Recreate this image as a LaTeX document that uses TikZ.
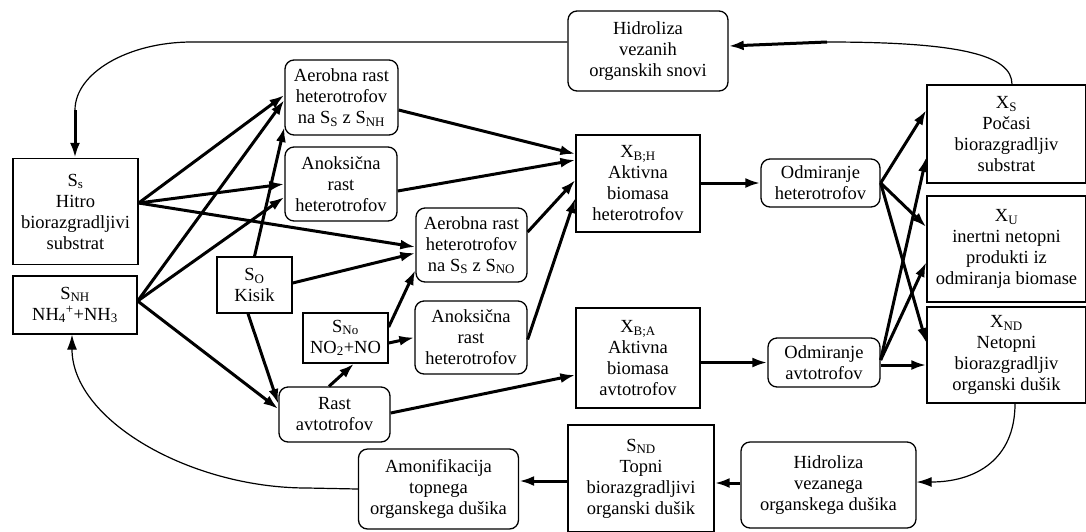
\documentclass[tikz,border=0pt]{standalone}
\usepackage{fontspec}
\setmainfont{Liberation Serif}
\usetikzlibrary{arrows.meta,calc}

\tikzset{
  every node/.style={font=\fontsize{18.5}{21}\selectfont, align=center, inner sep=0pt},
  box/.style={draw, line width=1.3pt, minimum width=#1},
  box/.default=110pt,
  rbox/.style={box=#1, rounded corners=9pt},
  rbox/.default=110pt,
  arr/.style={line width=3pt, -{Latex[length=15pt,width=10pt]}},
  thinarr/.style={line width=1.2pt, -{Latex[length=15pt,width=10pt]}},
  thinline/.style={line width=1.2pt},
}

\begin{document}
\begin{tikzpicture}[x=1pt,y=-1pt]
\useasboundingbox (0,0) rectangle (1086,531);

% substrates on the left
\node[box=125pt, minimum height=106pt] (ss) at (75.5,211.5)
  {S\textsubscript{s}\\Hitro\\biorazgradljivi\\substrat};
\node[box=124pt, minimum height=58pt] (snh) at (75,305)
  {S\textsubscript{NH}\\NH\textsubscript{4}\textsuperscript{+}+NH\textsubscript{3}};
\node[box=75pt, minimum height=56pt] (so) at (254.5,285) {S\textsubscript{O}\\Kisik};
\node[box=85pt, minimum height=50pt] (sno) at (345.5,338) {S\textsubscript{No}\\NO\textsubscript{2}+NO};

% growth processes
\node[rbox=113pt, minimum height=75pt] (aer1) at (341.5,97.5)
  {Aerobna rast\\heterotrofov\\na S\textsubscript{S} z S\textsubscript{NH}};
\node[rbox=112pt, minimum height=74pt] (ano1) at (341,184)
  {Anoksična\\rast\\heterotrofov};
\node[rbox=111pt, minimum height=74pt] (aer2) at (471.5,245)
  {Aerobna rast\\heterotrofov\\na S\textsubscript{S} z S\textsubscript{NO}};
\node[rbox=112pt, minimum height=73pt] (ano2) at (471,337.5)
  {Anoksična\\rast\\heterotrofov};
\node[rbox=111pt, minimum height=55pt] (rast) at (334.5,414.5) {Rast\\avtotrofov};

% biomass
\node[box=124pt, minimum height=97pt] (xbh) at (638,183.5)
  {X\textsubscript{B;H}\\Aktivna\\biomasa\\heterotrofov};
\node[box=124pt, minimum height=100pt] (xba) at (638,358)
  {X\textsubscript{B;A}\\Aktivna\\biomasa\\avtotrofov};

% decay and hydrolysis
\node[rbox=160pt, minimum height=80pt] (hid1) at (648,51)
  {Hidroliza\\vezanih\\organskih snovi};
\node[rbox=119pt, minimum height=48pt] (odh) at (820.5,183) {Odmiranje\\heterotrofov};
\node[rbox=112pt, minimum height=49pt] (oda) at (824,362.5) {Odmiranje\\avtotrofov};

% particulate products
\node[box=159pt, minimum height=98pt] (xs) at (1006.5,134)
  {X\textsubscript{S}\\Počasi\\biorazgradljiv\\substrat};
\node[box=159pt, minimum height=106pt] (xu) at (1006.5,249)
  {X\textsubscript{U}\\inertni netopni\\produkti iz\\odmiranja biomase};
\node[box=159pt, minimum height=96pt] (xnd) at (1006.5,355)
  {X\textsubscript{ND}\\Netopni\\biorazgradljiv\\organski dušik};

% nitrogen chain at the bottom
\node[rbox=175pt, minimum height=86pt] (hid2) at (828.5,485)
  {Hidroliza\\vezanega\\organskega dušika};
\node[box=146pt, minimum height=107pt] (snd) at (641,478.5)
  {S\textsubscript{ND}\\Topni\\biorazgradljivi\\organski dušik};
\node[rbox=160pt, minimum height=80pt] (amo) at (438.5,489)
  {Amonifikacija\\topnega\\organskega dušika};

% substrates feeding growth
\draw[arr] ([yshift=8.5pt]ss.east) -- ([yshift=2.5pt]aer1.west);
\draw[arr] ([yshift=8.5pt]ss.east) -- (ano1.west);
\draw[arr] ([yshift=8.5pt]ss.east) -- ([yshift=-2pt]aer2.west);
\draw[arr] ([yshift=4pt]snh.east) -- ([yshift=-2.5pt]aer1.west);
\draw[arr] ([yshift=4pt]snh.east) -- ([yshift=-13pt]ano1.west);
\draw[arr] ([yshift=4pt]snh.east) -- ([yshift=5.5pt]rast.west);
\draw[arr] (so.north) -- ([yshift=-29.5pt]aer1.west);
\draw[arr] ([yshift=2pt]so.east) -- ([yshift=-8pt]aer2.west);
\draw[arr] ([xshift=-6.5pt]so.south) -- ([yshift=10.5pt]rast.west);
\draw[arr] ([xshift=-5.5pt]rast.north) -- ([xshift=8.5pt]sno.south);
\draw[arr] ([yshift=11pt]sno.east) -- ([yshift=-25pt]aer2.west);
\draw[arr] ([yshift=-5pt]sno.east) -- (ano2.west);

% growth to biomass
\draw[arr] ([yshift=-12.5pt]aer1.east) -- ([yshift=29.5pt]xbh.west);
\draw[arr] ([yshift=-7pt]ano1.east) -- ([yshift=23.5pt]xbh.west);
\draw[arr] ([yshift=13pt]aer2.east) -- ([yshift=3.5pt]xbh.west);
\draw[arr] ([yshift=-2pt]ano2.east) -- ([yshift=-14.5pt]xbh.west);
\draw[arr] ([yshift=1.5pt]rast.east) -- ([yshift=-17pt]xba.west);

% decay
\draw[arr] (xbh.east |- odh.west) -- (odh.west);
\draw[arr] (xba.east |- oda.west) -- (oda.west);
\draw[arr] (odh.east) -- ([yshift=24pt]xs.west);
\draw[arr] (odh.east) -- ([yshift=22pt]xu.west);
\draw[arr] (odh.east) -- ([yshift=12pt]xnd.west);
\draw[arr] ([yshift=2.5pt]oda.east) -- ([yshift=-23pt]xs.west);
\draw[arr] ([yshift=2.5pt]oda.east) -- ([yshift=-13pt]xu.west);
\draw[arr] ([yshift=-2.5pt]oda.east) -- ([yshift=-10pt]xnd.west);

% hydrolysis of slowly degradable substrate back to S_s
\draw[thinline] ([xshift=5.5pt]xs.north) .. controls (1012,55) and (960,42) .. (827,42)
  coordinate (k2);
\draw[arr] (k2) -- ([yshift=5pt]hid1.east);
\draw[thinline] ([yshift=9pt]hid1.west) -- (192,42) .. controls (128,42) and (75,73) .. (75,110)
  coordinate (k1);
\draw[arr] (k1) -- (k1 |- ss.north);

% nitrogen path
\draw[thinarr] ([xshift=8.5pt]xnd.south) .. controls (1015,460) and (975,482) .. ([yshift=3pt]hid2.east);
\draw[arr] ([yshift=2pt]hid2.west) -- ([yshift=-4.5pt]snd.east);
\draw[arr] ([yshift=-2.5pt]snd.west) -- ([yshift=8pt]amo.east);
\draw[thinarr] (amo.west) -- (307,488) .. controls (190,488) and (72,420) .. ([xshift=-3pt]snh.south);
\end{tikzpicture}
\end{document}
